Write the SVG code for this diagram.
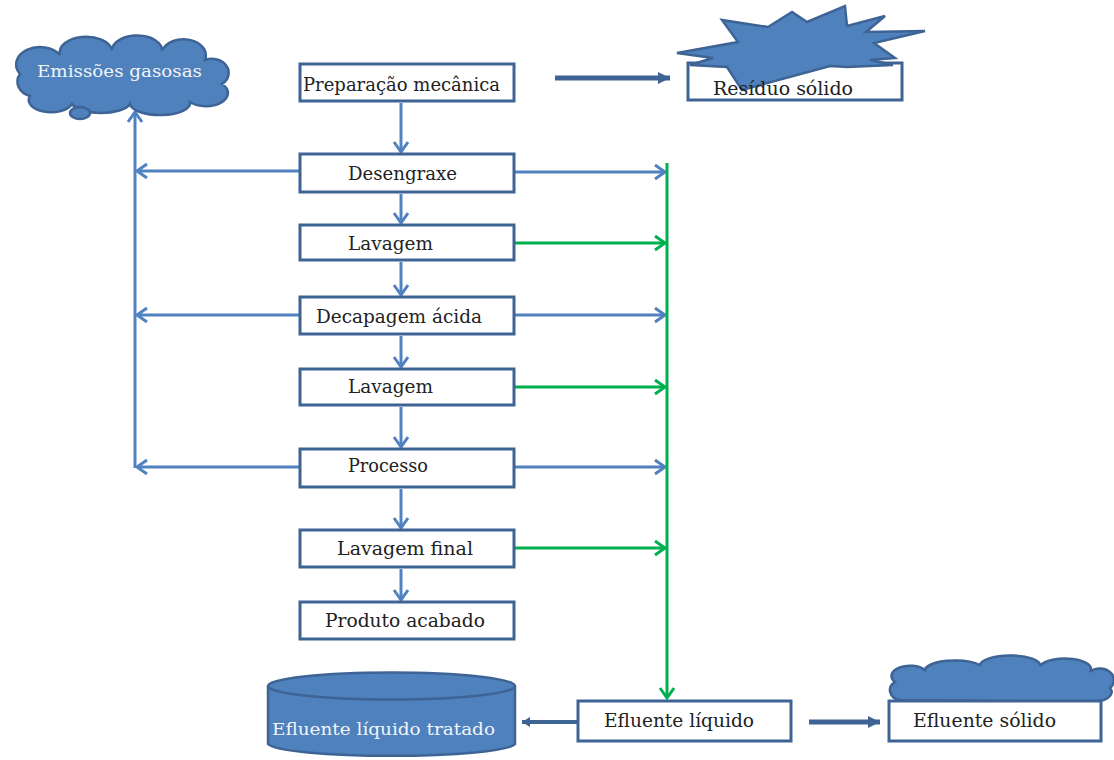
<svg xmlns="http://www.w3.org/2000/svg" width="1114" height="760" viewBox="0 0 1114 760">
<style>
.box{fill:#fff;stroke:#3E6395;stroke-width:3}
.t{font-family:"DejaVu Serif","Liberation Serif",serif;font-size:18px;fill:#222}
.tw{font-family:"DejaVu Serif","Liberation Serif",serif;font-size:17px;fill:#f2f4f8}
.bl{stroke:#5082C0;stroke-width:3;fill:none}
.gr{stroke:#00B050;stroke-width:3;fill:none}
.db{stroke:#3E6395;stroke-width:5;fill:none}
.shape{fill:#4F81BD;stroke:#3E6395;stroke-width:2.5}
</style>
<defs>
<marker id="ab" markerUnits="userSpaceOnUse" markerWidth="16" markerHeight="18" refX="12" refY="8" orient="auto">
<path d="M2,1 L12,8 L2,15" fill="none" stroke="#5082C0" stroke-width="3"/>
</marker>
<marker id="ag" markerUnits="userSpaceOnUse" markerWidth="16" markerHeight="18" refX="12" refY="8" orient="auto">
<path d="M2,1 L12,8 L2,15" fill="none" stroke="#00B050" stroke-width="3"/>
</marker>
<marker id="ad" markerUnits="userSpaceOnUse" markerWidth="14" markerHeight="14" refX="12" refY="7" orient="auto">
<path d="M0,1 L12,7 L0,13 Z" fill="#3E6395"/>
</marker>
<marker id="ads" markerUnits="userSpaceOnUse" markerWidth="10" markerHeight="10" refX="8" refY="5" orient="auto">
<path d="M0,0 L8,5 L0,10 Z" fill="#3E6395"/>
</marker>
</defs>

<g id="connectors">
<line class="bl" x1="401" y1="103" x2="401" y2="152" marker-end="url(#ab)"/>
<line class="bl" x1="401" y1="194" x2="401" y2="223" marker-end="url(#ab)"/>
<line class="bl" x1="401" y1="262" x2="401" y2="295" marker-end="url(#ab)"/>
<line class="bl" x1="401" y1="336" x2="401" y2="367" marker-end="url(#ab)"/>
<line class="bl" x1="401" y1="407" x2="401" y2="447" marker-end="url(#ab)"/>
<line class="bl" x1="401" y1="489" x2="401" y2="528" marker-end="url(#ab)"/>
<line class="bl" x1="401" y1="569" x2="401" y2="600" marker-end="url(#ab)"/>
<line class="bl" x1="135" y1="468" x2="135" y2="112" marker-end="url(#ab)"/>
<line class="bl" x1="300" y1="171" x2="137" y2="171" marker-end="url(#ab)"/>
<line class="bl" x1="300" y1="315" x2="137" y2="315" marker-end="url(#ab)"/>
<line class="bl" x1="300" y1="467" x2="137" y2="467" marker-end="url(#ab)"/>
<line class="bl" x1="514" y1="172" x2="665" y2="172" marker-end="url(#ab)"/>
<line class="bl" x1="514" y1="315" x2="665" y2="315" marker-end="url(#ab)"/>
<line class="bl" x1="514" y1="467" x2="665" y2="467" marker-end="url(#ab)"/>
<line class="gr" x1="514" y1="243" x2="665" y2="243" marker-end="url(#ag)"/>
<line class="gr" x1="514" y1="387" x2="665" y2="387" marker-end="url(#ag)"/>
<line class="gr" x1="514" y1="548" x2="665" y2="548" marker-end="url(#ag)"/>
<line class="gr" x1="667" y1="163" x2="667" y2="698" marker-end="url(#ag)"/>
<line class="db" x1="555" y1="78" x2="670" y2="78" marker-end="url(#ad)"/>
<line class="db" x1="809" y1="722" x2="880" y2="722" marker-end="url(#ad)"/>
<line stroke="#3E6395" stroke-width="4" x1="578" y1="722" x2="522" y2="722" marker-end="url(#ads)"/>
</g>

<g id="emissoes">
<path class="shape" d="M30,96 A18,15 0 0 1 20,74 A22,16 0 0 1 60,55 A25,15 0 0 1 112,50 A25,15 0 0 1 162,51 A22,16 0 0 1 205,60 A17,14 0 0 1 222,84 A20,12 0 0 1 190,102 A30,12 0 0 1 130,104 A30,12 0 0 1 72,104 A20,11 0 0 1 30,96 Z"/>
<ellipse class="shape" cx="80" cy="113" rx="10" ry="6"/>
<text class="tw" x="37" y="77" textLength="165" lengthAdjust="spacingAndGlyphs">Emissões gasosas</text>
</g>

<g id="preparacao">
<rect class="box" x="300" y="64" width="214" height="37"/>
<text class="t" x="303" y="91" textLength="197" lengthAdjust="spacingAndGlyphs">Preparação mecânica</text>
</g>

<g id="residuo">
<rect class="box" x="688" y="63" width="214" height="37"/>
<path class="shape" d="M677,53 L738,42 L722,20 L768,27 L792,12 L807,22 L845,6 L847,26 L885,16 L866,32 L925,31 L874,43 L895,58 L870,60 L893,65 L847,67 L830,66 L742,90 L727,67 L690,65 L713,58 Z"/>
<text class="t" x="713" y="95" textLength="140" lengthAdjust="spacingAndGlyphs">Resíduo sólido</text>
</g>

<g id="desengraxe">
<rect class="box" x="300" y="154" width="214" height="38"/>
<text class="t" x="348" y="180" textLength="109" lengthAdjust="spacingAndGlyphs">Desengraxe</text>
</g>

<g id="lavagem1">
<rect class="box" x="300" y="225" width="214" height="35"/>
<text class="t" x="348" y="250" textLength="85" lengthAdjust="spacingAndGlyphs">Lavagem</text>
</g>

<g id="decapagem">
<rect class="box" x="300" y="297" width="214" height="37"/>
<text class="t" x="316" y="323" textLength="166" lengthAdjust="spacingAndGlyphs">Decapagem ácida</text>
</g>

<g id="lavagem2">
<rect class="box" x="300" y="369" width="214" height="36"/>
<text class="t" x="348" y="393" textLength="85" lengthAdjust="spacingAndGlyphs">Lavagem</text>
</g>

<g id="processo">
<rect class="box" x="300" y="449" width="214" height="38"/>
<text class="t" x="348" y="472" textLength="80" lengthAdjust="spacingAndGlyphs">Processo</text>
</g>

<g id="lavagemfinal">
<rect class="box" x="300" y="530" width="214" height="37"/>
<text class="t" x="337" y="555" textLength="136" lengthAdjust="spacingAndGlyphs">Lavagem final</text>
</g>

<g id="produto">
<rect class="box" x="300" y="602" width="214" height="37"/>
<text class="t" x="325" y="627" textLength="160" lengthAdjust="spacingAndGlyphs">Produto acabado</text>
</g>

<g id="tratado">
<path class="shape" d="M268,686 L268,744 A124,13 0 0 0 515,744 L515,686"/>
<ellipse class="shape" cx="391.5" cy="686" rx="123.5" ry="13.5"/>
<text class="tw" x="272" y="735" textLength="223" lengthAdjust="spacingAndGlyphs">Efluente líquido tratado</text>
</g>

<g id="efluenteliquido">
<rect class="box" x="578" y="701" width="213" height="40"/>
<text class="t" x="604" y="727" textLength="150" lengthAdjust="spacingAndGlyphs">Efluente líquido</text>
</g>

<g id="efluentesolido">
<path class="shape" d="M900,700 A12,10 0 0 1 895,682 A18,10 0 0 1 925,670 A30,10 0 0 1 980,665 A30,10 0 0 1 1040,666 A25,10 0 0 1 1090,672 A12,10 0 0 1 1110,688 A20,10 0 0 1 1090,702 Z"/>
<rect class="box" x="889" y="701" width="212" height="40"/>
<text class="t" x="913" y="727" textLength="143" lengthAdjust="spacingAndGlyphs">Efluente sólido</text>
</g>
</svg>
